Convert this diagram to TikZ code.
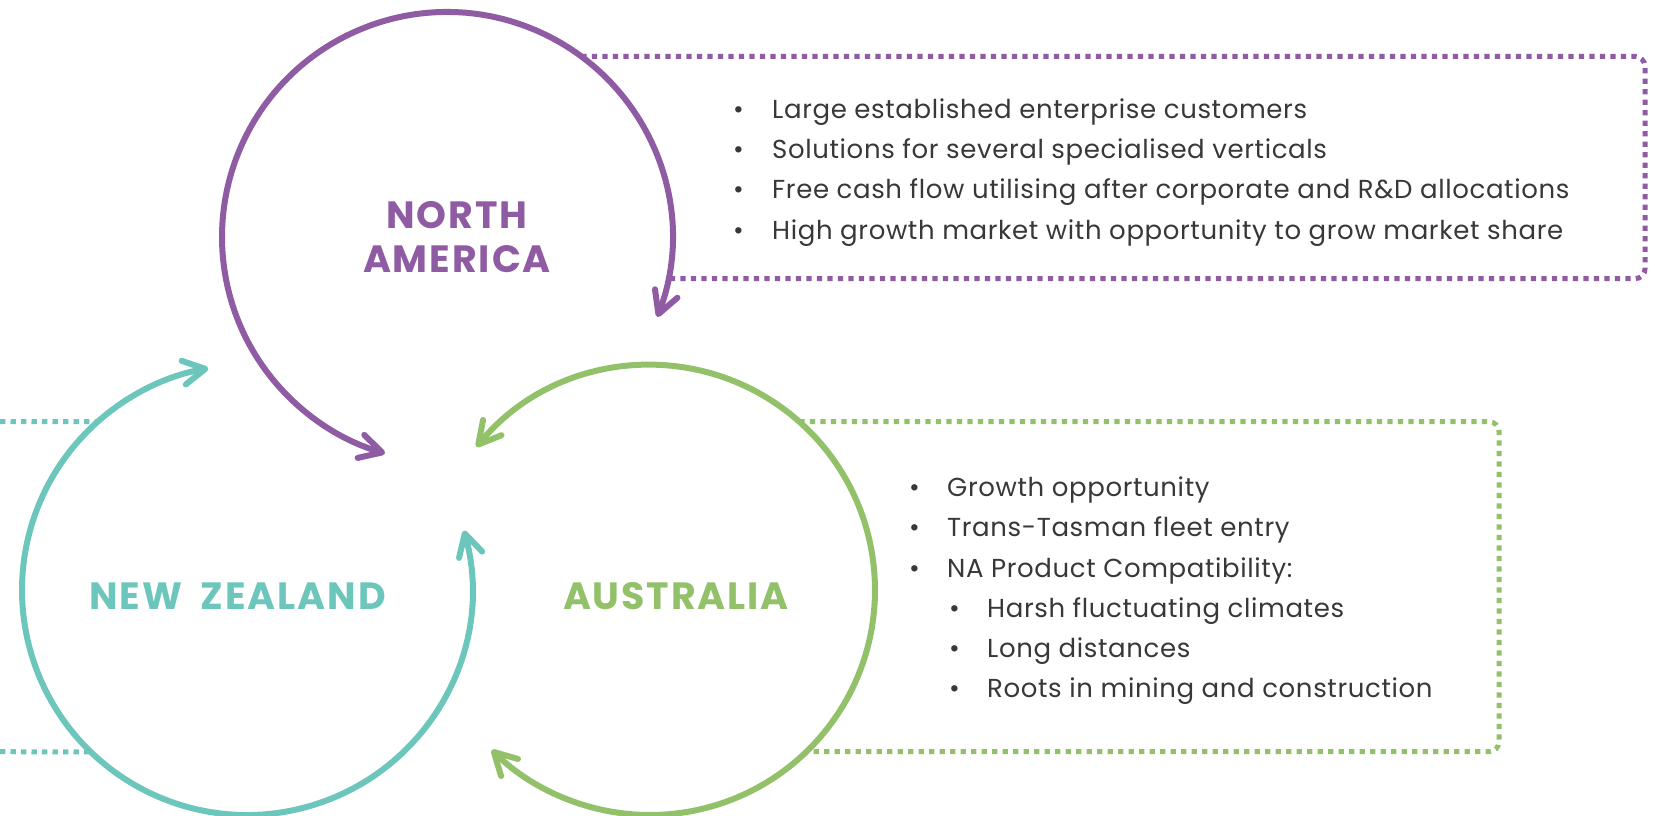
\documentclass[tikz,border=0pt]{standalone}
\usepackage{fontspec}
\setmainfont{Poppins}
\newfontfamily\bodyfont{Poppins}[LetterSpace=2.4]
\newfontfamily\headfont{Poppins}[LetterSpace=5]
\usetikzlibrary{arrows.meta,calc}
\definecolor{naPurple}{HTML}{8F5BA3}
\definecolor{auGreen}{HTML}{92C16A}
\definecolor{nzTeal}{HTML}{6CC6BB}
\definecolor{bodyGray}{HTML}{383838}

\begin{document}
\begin{tikzpicture}[x=1pt,y=1pt]
	\tikzstyle{region}=[circle, minimum size=450pt, inner sep=0pt, outer sep=0pt]
	\tikzstyle{title}=[font=\headfont\fontsize{38}{44}\selectfont\bfseries, align=center, inner sep=0pt]
	\tikzstyle{cycle}=[line width=6pt, {Straight Barb[length=22pt, width=24pt, round]}-{Straight Barb[length=22pt, width=24pt, round]}]
	\tikzstyle{callout}=[line width=5pt, dash pattern=on 5.3pt off 5.2pt, rounded corners=10pt]
	\tikzstyle{item}=[font=\bodyfont\fontsize{26}{26}\selectfont, text=bodyGray, anchor=base west, inner sep=0pt]
	\useasboundingbox (0,0) rectangle (1655,815);
	\node[region] (na) at (447,578) {};
	\node[region] (au) at (650,225) {};
	\node[region] (nz) at (247,225) {};
	\coordinate (nz-top) at (0,393.3);
	\coordinate (nz-bot) at (0,63.3);
	% dotted callouts
	\draw[callout, naPurple] ($(na)+(53.35:225)$) -- (1645,758.5) -- (1645,536.3) -- ($(na)+(-10.68:225)$);
	\draw[callout, auGreen] ($(au)+(48.42:225)$) -- (1499,393.3) -- (1499,63.3) -- ($(au)+(-45.95:225)$);
	\draw[callout, nzTeal] (nz-top) -- ($(nz)+(131.6:225)$);
	\draw[callout, nzTeal] (nz-bot) -- ($(nz)+(226.05:225)$);
	% cycle arcs
	\draw[cycle, naPurple] ($(na)+(-20.8:225)$) arc[start angle=-20.8, end angle=254, radius=225];
	\draw[cycle, auGreen] ($(au)+(140.5:225)$) arc[start angle=140.5, end angle=-134.7, radius=225];
	\draw[cycle, nzTeal] ($(nz)+(15.3:225)$) arc[start angle=15.3, end angle=-260.1, radius=225];
	% titles
	\node[title, naPurple] (na-title) at ($(na)+(10,0)$) {NORTH\\AMERICA};
	\node[title, auGreen] (au-title) at ($(au)+(26,-5.7)$) {AUSTRALIA};
	\node[title, nzTeal] (nz-title) at ($(nz)+(-9.5,-6)$) {NEW\hspace{9pt} ZEALAND};
	% bullet lists
	\foreach \txt [count=\i] in {Large established enterprise customers, Solutions for several specialised verticals, Free cash flow utilising after corporate and R\&D allocations, High growth market with opportunity to grow market share}
		\node[item] (na-\i) at (733,737-40.3*\i) {\makebox[39pt][l]{\textbullet}\txt};
	\foreach \ind/\txt [count=\i] in {0/Growth opportunity, 0/Trans-Tasman fleet entry, 0/NA Product Compatibility:, 40/Harsh fluctuating climates, 40/Long distances, 40/Roots in mining and construction}
		\node[item] (au-\i) at (909+\ind,358.5-40.2*\i) {\makebox[38pt][l]{\textbullet}\txt};
\end{tikzpicture}
\end{document}
